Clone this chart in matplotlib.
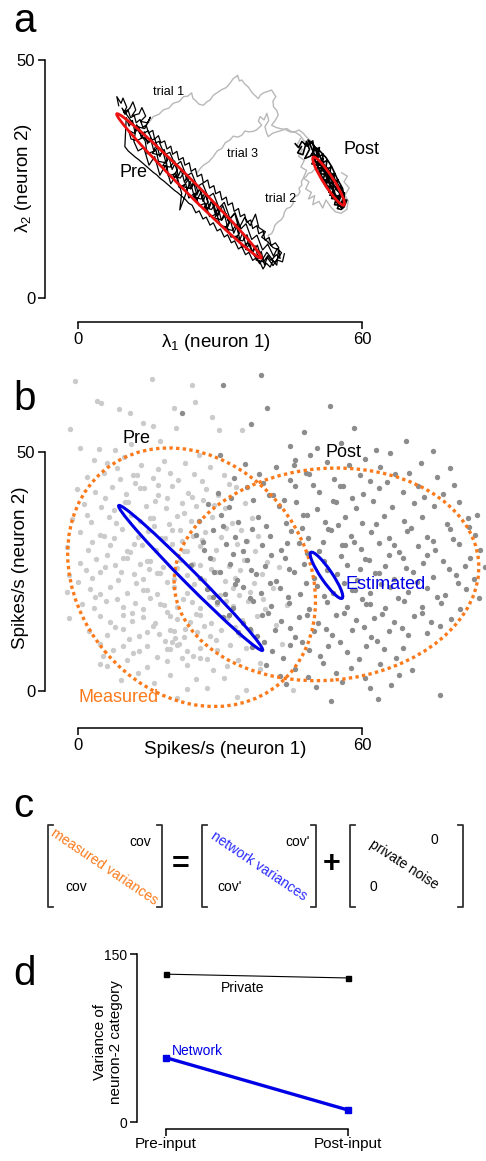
"""Firing-rate trajectories, spike-count clouds and variance partitioning."""

import matplotlib.pyplot as plt
import numpy as np
from matplotlib.patches import Ellipse

# ---- panel a: latent rate trajectories (lambda_1, lambda_2) ----
trial1 = np.array([
    (13.8, 35.6), (15.0, 36.9), (15.9, 38.1), (17.1, 38.6), (18.0, 39.5), (19.2, 39.9),
    (20.1, 40.9), (21.4, 41.3), (22.3, 42.3), (23.2, 42.4), (24.0, 43.1), (24.3, 41.9),
    (24.7, 41.6), (25.6, 40.7), (26.5, 40.5), (27.2, 41.2), (27.9, 41.6), (28.6, 42.6),
    (29.5, 43.2), (30.4, 43.8), (31.3, 44.2), (32.1, 45.1), (32.8, 46.1), (33.3, 46.4),
    (33.7, 46.8), (34.1, 45.6), (34.6, 45.8), (35.3, 44.9), (36.0, 44.3), (36.6, 43.4),
    (37.0, 42.9), (38.1, 41.9), (38.6, 42.7), (39.2, 43.1), (40.1, 43.4), (40.9, 43.7),
    (41.8, 42.3), (41.2, 41.4), (41.3, 40.2), (42.0, 39.4), (42.3, 38.4), (41.6, 37.2),
    (40.9, 36.3), (41.9, 35.8), (42.7, 35.6), (43.8, 35.4), (44.8, 34.9), (45.9, 34.8),
    (46.9, 34.2), (47.7, 33.1), (48.7, 32.5), (49.3, 31.4), (50.1, 30.7),
])
trial3 = np.array([
    (25.1, 26.2), (25.9, 27.3), (26.5, 27.9), (27.6, 28.6), (28.6, 29.7), (29.4, 30.9),
    (30.4, 31.4), (31.1, 32.6), (32.1, 33.2), (32.8, 34.0), (33.8, 33.8), (34.6, 34.2),
    (35.3, 35.1), (36.0, 34.9), (37.0, 35.0), (37.7, 35.3), (38.8, 36.3), (38.1, 37.2),
    (38.5, 38.1), (39.3, 37.4), (39.9, 38.8), (40.3, 37.3), (39.5, 36.0), (39.8, 34.8),
    (40.2, 33.9), (41.1, 34.6), (42.0, 34.9), (43.0, 35.2), (44.1, 35.6), (45.0, 35.0),
    (45.8, 34.9), (46.7, 35.3), (47.6, 34.6), (48.3, 33.8), (49.0, 33.2), (49.6, 32.1),
    (50.4, 31.4),
])
trial2 = np.array([
    (39.9, 11.1), (40.3, 12.0), (40.2, 13.2), (40.9, 13.5), (41.3, 14.3), (41.6, 15.3),
    (42.3, 16.0), (42.9, 16.4), (43.4, 17.1), (43.6, 18.0), (44.1, 18.8), (44.9, 19.1),
    (45.5, 19.9), (45.4, 20.7), (45.8, 21.3), (46.5, 21.6), (46.9, 22.3), (46.7, 23.1),
    (47.3, 23.7), (47.2, 24.5), (47.6, 25.1), (48.2, 25.5), (48.7, 26.2), (49.4, 26.4),
    (50.1, 27.2), (50.6, 26.5), (51.1, 26.2), (51.5, 25.3), (52.2, 24.8), (52.6, 23.9),
    (53.2, 23.4), (53.9, 22.6), (54.3, 22.3), (54.6, 22.9), (55.0, 23.0),
])
post_gray = np.array([
    (47.0, 33.5), (46.2, 32.0), (47.4, 31.2), (46.6, 29.8), (47.8, 28.9), (47.1, 27.5),
    (48.3, 26.8), (47.6, 25.2), (48.8, 24.4), (48.1, 22.9), (49.3, 22.2), (48.7, 20.8),
    (50.0, 21.5), (49.6, 19.6), (50.9, 20.3), (51.7, 18.9), (52.4, 20.6), (53.5, 19.0),
    (54.4, 18.1), (55.6, 17.8), (56.8, 18.6), (57.1, 20.4), (56.4, 21.6), (57.3, 23.1),
    (56.2, 24.4), (56.9, 25.6), (55.7, 26.3),
])
pre_walk = np.array([
    (8.6, 40.4), (8.2, 42.3), (9.1, 40.9), (9.5, 42.0), (10.3, 40.1), (9.7, 39.0),
    (10.9, 39.8), (11.6, 41.2), (12.2, 39.5), (11.4, 38.3), (12.9, 38.7), (13.5, 40.0),
    (14.3, 38.2), (13.2, 37.1), (14.7, 36.8), (15.3, 38.0), (14.1, 35.6), (12.8, 35.9),
    (11.9, 34.6), (10.7, 35.2), (11.2, 33.4), (12.5, 33.1), (13.9, 33.8), (15.0, 32.7),
    (16.2, 33.5), (16.8, 31.6), (15.7, 30.4), (17.3, 30.0), (18.2, 31.2), (18.8, 29.1),
    (17.9, 27.8), (19.5, 27.5), (20.4, 28.8), (21.0, 26.9), (20.1, 25.6), (21.6, 25.2),
    (22.5, 26.5), (23.1, 24.6), (22.2, 23.4), (23.8, 23.0), (24.7, 24.3), (25.3, 22.4),
    (24.4, 21.2), (26.0, 20.8), (26.9, 22.1), (27.5, 20.2), (26.6, 19.0), (28.2, 18.6),
    (29.1, 19.9), (29.7, 18.0), (28.8, 16.8), (30.4, 16.4), (31.3, 17.7), (31.9, 15.8),
    (31.0, 14.6), (32.6, 14.2), (33.5, 15.5), (34.1, 13.6), (33.2, 12.4), (34.8, 12.0),
    (35.7, 13.3), (36.3, 11.4), (35.4, 10.2), (37.0, 9.8), (37.9, 11.1), (38.5, 9.2),
    (37.6, 8.0), (39.2, 7.6), (40.1, 8.9), (40.8, 7.9), (41.9, 9.1), (42.7, 8.3),
    (42.4, 10.1), (41.2, 10.6), (40.0, 11.9), (38.8, 12.8), (39.6, 13.9), (38.2, 14.8),
    (37.5, 17.6), (36.4, 15.2), (35.2, 16.9), (34.0, 14.6), (33.1, 17.8), (31.8, 16.1),
    (30.6, 19.4), (29.5, 17.2), (28.3, 20.6), (27.2, 18.5), (26.0, 22.3), (24.9, 20.1),
    (23.7, 24.5), (22.6, 21.4), (21.5, 18.5), (21.9, 22.0), (20.8, 25.9), (19.6, 24.0),
    (18.5, 27.9), (17.3, 25.8), (16.2, 29.7), (15.0, 27.9), (13.9, 31.6), (12.7, 30.9),
    (11.8, 32.9), (12.4, 36.4), (13.6, 34.5), (14.8, 35.1), (16.0, 32.4), (17.1, 32.9),
    (18.3, 30.1), (19.4, 30.6), (20.6, 27.8), (21.7, 28.7), (22.9, 25.6), (24.0, 26.3),
    (25.2, 23.4), (26.3, 24.1), (27.5, 21.2), (28.6, 22.0), (29.8, 18.9), (30.9, 20.1),
    (32.1, 16.7), (33.2, 17.9), (34.4, 14.5), (35.5, 15.6), (36.7, 12.3), (37.8, 13.2),
    (39.0, 10.1), (40.1, 11.3), (41.3, 8.8), (42.1, 10.4), (43.0, 9.5), (41.6, 7.4),
    (39.9, 9.6), (38.4, 7.2), (37.1, 9.1), (35.9, 11.6), (34.7, 10.6), (33.6, 13.0),
    (32.3, 12.8), (31.5, 14.9), (30.1, 15.2), (29.3, 17.6), (27.8, 17.1), (26.9, 19.9),
    (25.6, 19.4), (24.6, 22.0), (23.4, 21.0), (22.8, 23.9), (21.3, 23.3), (20.7, 26.2),
    (19.1, 25.6), (18.7, 28.4), (17.0, 28.7), (16.5, 31.0), (14.6, 30.3), (14.2, 33.0),
    (9.3, 39.9), (9.9, 38.6), (10.6, 39.4), (11.1, 37.9), (11.9, 38.3), (12.3, 36.8),
    (13.1, 37.5), (13.7, 35.9), (14.4, 36.3), (14.9, 34.7), (15.8, 35.2), (16.2, 33.4),
    (17.0, 34.1), (17.5, 32.6), (18.3, 33.0), (18.8, 31.3), (19.6, 31.9), (20.0, 30.2),
    (20.9, 30.8), (21.3, 29.0), (22.2, 29.5), (22.6, 27.9), (23.5, 28.4), (23.9, 26.6),
    (24.8, 27.2), (25.2, 25.5), (26.1, 26.0), (26.5, 24.2), (27.4, 24.8), (27.8, 23.1),
    (28.7, 23.6), (29.1, 21.9), (30.0, 22.4), (30.4, 20.6), (31.3, 21.2), (31.7, 19.5),
    (32.6, 20.0), (33.0, 18.2), (33.9, 18.8), (34.3, 17.1), (35.2, 17.6), (35.6, 15.9),
    (36.5, 16.4), (36.9, 14.6), (37.8, 15.2), (38.2, 13.5), (39.1, 14.0), (39.5, 12.2),
    (40.4, 12.7), (40.8, 11.0), (41.7, 11.6), (42.4, 10.6), (42.0, 6.9), (41.2, 7.8),
    (40.6, 6.5), (39.8, 7.3), (39.1, 6.1), (38.4, 7.6), (37.6, 8.4), (36.9, 7.9),
    (36.1, 9.6), (35.4, 9.1), (34.6, 10.8), (33.9, 10.3), (33.1, 12.0), (32.4, 11.6),
    (31.6, 13.3), (30.9, 12.8), (30.1, 14.5), (29.4, 14.1), (28.6, 15.8), (27.9, 15.3),
    (27.1, 17.0), (26.4, 16.6), (25.6, 18.3), (24.9, 17.9), (24.1, 19.5), (23.4, 19.9),
    (22.6, 20.8), (21.9, 21.4), (21.1, 22.1), (20.4, 22.6), (19.6, 23.3), (18.9, 23.9),
    (18.1, 24.6), (17.4, 25.1), (16.6, 25.9), (15.9, 26.4), (15.1, 27.1), (14.4, 27.7),
    (13.6, 28.4), (12.9, 29.0), (12.1, 29.6), (11.4, 30.2), (10.6, 30.9), (9.9, 31.8),
    (10.2, 37.9), (10.8, 36.1), (11.5, 37.3), (12.0, 35.0), (12.8, 36.0), (13.4, 33.6),
    (14.0, 34.9), (14.7, 32.4), (15.3, 33.6), (16.0, 31.0), (16.6, 32.3), (17.3, 29.7),
    (17.9, 31.0), (18.6, 28.3), (19.2, 29.6), (19.9, 27.0), (20.5, 28.3), (21.2, 25.6),
    (21.8, 27.0), (22.5, 24.3), (23.1, 25.7), (23.8, 22.9), (24.4, 24.4), (25.1, 21.6),
    (25.7, 23.0), (26.4, 20.3), (27.0, 21.7), (27.7, 18.9), (28.3, 20.4), (29.0, 17.6),
    (29.6, 19.0), (30.3, 16.3), (30.9, 17.7), (31.6, 14.9), (32.2, 16.4), (32.9, 13.6),
    (33.5, 15.0), (34.2, 12.3), (34.8, 13.7), (35.5, 10.9), (36.1, 12.4), (36.8, 9.6),
    (37.4, 11.0), (38.1, 8.3), (38.7, 9.8), (39.4, 7.0), (40.0, 8.5), (41.2, 6.8),
    (42.0, 8.0), (43.2, 7.6), (43.6, 9.3),
])
post_walk = np.array([
    (47.2, 31.8), (46.4, 30.5), (47.5, 30.1), (48.3, 32.9), (48.9, 31.2), (47.9, 29.3),
    (49.1, 29.8), (50.2, 31.5), (50.6, 29.6), (49.4, 28.2), (50.9, 27.9), (51.8, 29.3),
    (51.4, 26.6), (52.6, 27.4), (53.0, 25.3), (52.0, 24.6), (53.8, 24.1), (54.1, 22.3),
    (53.2, 21.6), (55.0, 21.4), (55.4, 19.7), (56.3, 20.6), (55.8, 18.9), (54.6, 20.1),
    (53.7, 23.0), (52.7, 25.8), (51.5, 28.1), (50.3, 28.6), (51.2, 26.3), (52.3, 23.5),
    (54.3, 20.8), (56.0, 22.1), (54.9, 23.9), (53.5, 26.2), (52.2, 27.5), (50.7, 30.6),
    (49.6, 32.4), (48.6, 33.2), (49.8, 30.5), (51.0, 28.4), (52.0, 26.5), (53.0, 24.2),
    (54.0, 22.5), (55.1, 20.4), (55.7, 21.6), (54.6, 22.8), (53.4, 25.0), (52.4, 27.0),
    (51.3, 28.9), (50.4, 27.0), (51.7, 25.0), (52.9, 23.0), (54.2, 21.0), (55.5, 19.2),
    (56.5, 19.8), (55.9, 23.0), (54.7, 25.2), (53.6, 27.6), (52.4, 29.5), (51.0, 31.0),
    (49.9, 31.8), (49.5, 30.0), (50.3, 29.9), (50.0, 28.7), (50.9, 28.6), (50.6, 27.4),
    (51.5, 27.3), (51.2, 26.1), (52.1, 26.0), (51.8, 24.8), (52.7, 24.7), (52.4, 23.5),
    (53.3, 23.4), (53.0, 22.2), (53.9, 22.1), (53.6, 20.9), (54.5, 20.8), (54.2, 19.6),
    (55.1, 19.5), (54.8, 18.8), (55.6, 18.6), (56.2, 19.1), (56.8, 20.6), (55.7, 20.0),
    (56.3, 22.1), (55.2, 21.5), (55.6, 23.4), (54.5, 22.9), (54.9, 24.8), (53.8, 24.2),
    (54.2, 26.2), (53.1, 25.6), (53.4, 27.5), (52.3, 26.9), (52.6, 28.9), (51.5, 28.3),
    (51.8, 30.2), (50.7, 29.6), (51.0, 31.6), (49.9, 31.0), (49.6, 33.0), (48.4, 31.9),
    (47.3, 32.9), (46.6, 31.6), (45.9, 32.4),
])
# fitted covariance ellipses: (centre x, centre y, length, width, angle)
pre_rate_ell = (23.45, 23.55, 43.0, 2.6, -44.8)
post_rate_ell = (52.95, 24.55, 12.0, 2.1, -57.2)

# ---- panel b: spike-count samples ----
pre_spikes = np.array([
    (-0.6, 64.8), (15.6, 65.2), (24.0, 64.1), (4.0, 60.6), (4.9, 60.2), (8.6, 58.9),
    (20.2, 59.2), (24.7, 60.4), (-1.6, 54.8), (13.8, 56.1), (15.9, 55.4), (20.7, 55.0),
    (29.7, 54.5), (34.6, 54.5), (0.5, 50.8), (4.4, 50.6), (7.9, 50.5), (11.2, 51.6),
    (17.3, 52.4), (3.3, 48.4), (6.1, 47.6), (9.8, 48.9), (13.4, 47.3), (18.1, 48.2),
    (22.6, 47.8), (27.9, 46.9), (1.9, 44.8), (5.4, 45.6), (8.9, 44.3), (11.6, 45.2),
    (12.4, 45.1), (15.8, 44.6), (19.4, 45.7), (21.1, 44.1), (24.6, 45.3), (26.3, 44.0),
    (30.8, 45.1), (-0.3, 42.2), (3.6, 41.6), (7.2, 42.7), (10.1, 41.3), (13.2, 42.5),
    (14.0, 42.4), (17.0, 41.1), (19.9, 42.8), (23.3, 41.5), (27.1, 42.3), (29.6, 41.0),
    (33.4, 42.6), (1.2, 39.1), (4.8, 38.4), (9.9, 39.6), (10.6, 39.5), (14.4, 38.7),
    (16.2, 39.8), (18.6, 38.2), (21.9, 39.3), (25.0, 38.6), (26.5, 39.9), (31.0, 38.3),
    (35.2, 39.4), (-1.2, 36.0), (2.7, 35.4), (6.6, 36.5), (8.0, 35.2), (11.3, 36.8),
    (13.1, 35.6), (15.2, 36.2), (15.9, 36.1), (19.3, 35.0), (20.9, 36.7), (23.8, 35.5),
    (28.4, 36.3), (32.5, 35.1), (36.7, 36.2), (0.4, 33.2), (4.7, 32.6), (5.4, 32.5),
    (9.2, 33.8), (12.7, 32.3), (14.8, 33.4), (17.6, 32.1), (18.3, 32.0), (21.5, 33.6),
    (24.4, 32.4), (26.9, 33.3), (30.2, 32.2), (34.4, 33.7), (38.1, 32.5), (-2.3, 30.1),
    (2.1, 29.4), (6.8, 30.6), (10.3, 29.2), (11.0, 29.1), (13.6, 30.5), (16.5, 29.6),
    (19.8, 30.8), (22.3, 29.3), (23.0, 29.2), (25.8, 30.4), (29.1, 29.5), (33.6, 30.7),
    (37.4, 29.2), (0.5, 26.8), (3.9, 27.6), (7.8, 26.3), (9.6, 27.9), (10.3, 27.8),
    (13.1, 26.5), (14.5, 27.2), (15.2, 27.1), (18.0, 26.0), (21.6, 27.5), (24.2, 26.6),
    (25.8, 26.4), (28.6, 27.7), (31.9, 26.2), (35.0, 27.4), (-1.8, 24.3), (2.9, 23.6),
    (4.7, 24.8), (8.4, 23.2), (11.9, 24.5), (13.8, 23.4), (16.7, 24.7), (17.4, 24.6),
    (20.2, 23.5), (23.0, 24.2), (26.7, 23.3), (29.4, 24.9), (33.1, 23.6), (38.9, 24.4),
    (-2.3, 20.8), (2.6, 21.4), (4.7, 20.3), (6.8, 21.7), (10.3, 20.6), (13.8, 21.2),
    (14.5, 21.1), (16.7, 20.2), (20.2, 21.8), (23.0, 20.5), (27.5, 21.3), (30.0, 20.1),
    (32.8, 21.6), (36.3, 20.7), (41.2, 21.5), (0.8, 18.3), (3.3, 17.4), (5.9, 18.8),
    (9.6, 17.6), (12.1, 18.5), (13.8, 17.2), (17.4, 18.1), (18.1, 18.0), (20.9, 17.5),
    (24.1, 18.6), (25.8, 17.3), (29.3, 18.2), (32.8, 17.8), (35.9, 18.9), (39.6, 17.1),
    (-2.0, 15.2), (4.7, 15.6), (6.8, 14.4), (9.6, 15.9), (11.4, 14.6), (13.8, 15.4),
    (16.2, 14.2), (19.5, 15.7), (20.9, 15.1), (23.6, 14.5), (25.8, 15.8), (28.2, 14.3),
    (31.4, 15.2), (34.7, 14.8), (37.8, 15.6), (2.4, 12.6), (6.2, 11.8), (9.6, 12.9),
    (12.9, 11.5), (14.5, 12.4), (17.2, 11.9), (19.5, 12.7), (20.2, 12.6), (22.4, 11.4),
    (25.1, 12.3), (27.9, 11.6), (30.3, 12.8), (34.2, 11.7), (36.6, 12.5), (4.7, 9.8),
    (7.5, 8.6), (9.6, 9.5), (12.8, 8.3), (14.5, 9.4), (18.8, 8.8), (19.5, 8.7),
    (20.9, 9.6), (23.0, 8.4), (25.8, 9.1), (29.3, 8.5), (32.2, 9.7), (35.6, 8.9),
    (4.7, 5.6), (6.1, 5.3), (10.3, 6.4), (14.5, 5.1), (18.8, 6.2), (23.0, 5.5),
    (25.8, 6.8), (27.2, 6.7), (31.4, 5.2), (38.4, 5.9), (9.0, 2.4), (16.1, 1.6),
    (23.0, 0.4), (27.2, 0.6), (30.8, 2.7), (35.6, 0.3), (45.5, 0.2), (21.0, -1.5),
    (33.5, -1.2), (5.8, 40.3), (7.7, 37.8), (12.0, 43.6), (16.9, 43.0), (18.9, 40.3),
    (22.5, 37.2), (24.1, 40.6), (28.7, 39.0), (3.0, 31.2), (7.6, 32.0), (11.8, 30.8),
    (16.0, 34.6), (19.9, 33.7), (22.0, 31.4), (26.2, 31.5), (31.3, 34.1), (1.6, 25.3),
    (5.7, 25.9), (9.0, 25.0), (12.3, 22.6), (14.9, 25.5), (18.8, 22.8), (21.0, 25.8),
    (24.6, 22.4), (28.0, 25.6), (31.0, 23.0), (3.6, 19.6), (8.2, 19.2), (11.5, 16.4),
    (15.3, 19.4), (18.9, 16.5), (22.1, 19.3), (25.0, 16.1), (27.6, 19.7), (31.2, 18.9),
    (34.0, 20.1), (7.9, 13.3), (10.8, 10.9), (15.8, 13.7), (18.3, 10.4), (19.9, 10.2),
    (20.6, 11.0), (21.4, 9.9), (22.7, 13.0), (26.6, 13.7), (29.1, 10.6), (33.1, 13.4),
    (5.3, 7.4), (11.7, 7.9), (16.6, 7.1), (21.9, 6.9), (24.4, 7.4), (28.6, 4.4),
    (33.7, 6.5), (12.6, 3.8), (19.4, 3.3), (25.0, 2.6), (2.0, 36.8), (6.2, 28.5),
    (0.0, 22.7), (37.1, 22.5), (34.2, 25.4), (40.0, 27.0), (39.1, 19.3), (41.8, 13.8),
    (43.0, 9.8), (38.5, 4.5), (17.0, 46.4), (8.3, 46.6), (25.6, 49.4), (31.9, 43.4),
    (35.8, 31.3), (42.5, 25.9), (44.2, 17.9), (10.9, 58.1), (28.3, 57.4),
])
post_spikes = np.array([
    (30.7, 64.0), (38.6, 66.1), (21.9, 58.2), (39.9, 59.2), (53.2, 59.6), (36.5, 55.8),
    (47.8, 54.2), (58.4, 55.1), (44.8, 51.2), (50.4, 50.8), (63.0, 50.5), (30.0, 49.4),
    (49.0, 49.4), (45.8, 48.4), (55.6, 51.9), (69.3, 52.3), (35.2, 47.4), (41.9, 46.8),
    (52.6, 47.9), (57.3, 47.2), (63.8, 46.9), (72.4, 47.6), (33.0, 44.6), (38.3, 45.3),
    (44.7, 44.2), (48.1, 45.6), (48.8, 45.5), (54.0, 44.3), (59.5, 45.1), (61.8, 44.0),
    (66.9, 45.4), (70.0, 45.6), (75.8, 44.7), (29.6, 41.5), (35.7, 42.6), (40.4, 41.1),
    (41.1, 41.0), (45.9, 42.8), (51.0, 41.6), (55.3, 42.9), (56.0, 42.8), (60.2, 41.3),
    (63.7, 42.4), (68.6, 41.7), (71.8, 42.9), (77.2, 41.2), (79.5, 43.0), (27.4, 39.2),
    (31.8, 38.4), (36.9, 39.9), (42.5, 38.6), (46.1, 39.5), (50.6, 38.1), (53.8, 39.7),
    (54.5, 39.6), (58.7, 38.3), (62.4, 39.8), (66.3, 38.5), (70.9, 39.3), (75.2, 38.7),
    (80.4, 39.5), (25.6, 35.6), (30.3, 36.8), (33.7, 35.3), (38.1, 36.4), (43.9, 35.1),
    (47.6, 36.9), (48.3, 36.8), (52.2, 35.4), (56.4, 36.5), (59.9, 35.2), (64.7, 36.7),
    (68.8, 35.5), (72.6, 36.3), (77.9, 35.0), (82.3, 36.1), (24.9, 32.7), (28.6, 33.6),
    (33.2, 32.2), (36.8, 33.9), (40.5, 32.5), (44.9, 33.4), (48.7, 32.1), (52.8, 33.8),
    (53.5, 33.7), (57.6, 32.4), (61.9, 33.3), (65.7, 32.0), (69.6, 33.5), (73.8, 32.3),
    (78.7, 33.9), (83.9, 32.6), (26.7, 29.4), (31.2, 30.7), (34.9, 29.2), (38.9, 30.5),
    (42.8, 29.6), (46.6, 30.9), (50.9, 29.3), (55.8, 30.6), (56.5, 30.5), (59.7, 29.8),
    (63.6, 30.9), (67.9, 29.1), (71.8, 30.4), (75.5, 29.5), (80.6, 30.8), (85.0, 29.6),
    (23.8, 26.3), (27.9, 27.8), (32.1, 26.6), (35.8, 27.4), (39.6, 26.1), (43.8, 27.9),
    (47.7, 26.5), (51.9, 27.2), (56.8, 26.4), (60.7, 27.6), (61.4, 27.5), (64.9, 26.2),
    (68.6, 27.8), (72.9, 26.7), (77.1, 27.3), (81.8, 26.1), (25.8, 23.6), (29.9, 24.8),
    (33.6, 23.3), (37.7, 24.4), (41.9, 23.1), (45.7, 24.9), (49.8, 23.7), (54.7, 24.5),
    (58.9, 23.2), (62.8, 24.7), (63.5, 24.6), (66.8, 23.4), (70.7, 24.9), (74.9, 23.8),
    (79.8, 24.3), (83.7, 23.5), (27.3, 21.4), (31.0, 20.2), (34.8, 21.8), (38.6, 20.6),
    (42.7, 21.5), (46.9, 20.3), (50.6, 21.9), (53.8, 20.5), (57.9, 21.2), (58.6, 21.1),
    (61.7, 20.4), (65.9, 21.7), (69.8, 20.8), (73.7, 21.6), (77.6, 20.1), (81.9, 21.3),
    (29.4, 18.6), (32.8, 17.3), (36.9, 18.9), (40.8, 17.7), (44.6, 18.4), (48.9, 17.1),
    (52.7, 18.7), (56.8, 17.5), (60.9, 18.2), (61.6, 18.1), (64.8, 17.4), (68.9, 18.8),
    (72.7, 17.6), (76.8, 18.5), (80.7, 17.2), (30.7, 15.4), (34.9, 14.3), (38.8, 15.8),
    (42.9, 14.6), (46.7, 15.5), (50.8, 14.2), (54.6, 15.9), (58.7, 14.8), (62.6, 15.3),
    (66.8, 14.5), (70.9, 15.7), (74.6, 14.4), (78.9, 15.1), (33.8, 12.4), (37.9, 11.6),
    (41.7, 12.8), (45.9, 11.3), (49.9, 12.5), (53.7, 11.8), (57.8, 12.7), (61.9, 11.4),
    (65.8, 12.6), (69.7, 11.7), (73.8, 12.2), (36.8, 9.3), (40.9, 8.4), (44.8, 9.7),
    (48.9, 8.6), (52.8, 9.5), (56.9, 8.2), (60.8, 9.4), (64.7, 8.7), (68.6, 9.1),
    (39.8, 5.4), (45.9, 4.6), (51.8, 5.8), (57.7, 4.9), (63.9, 5.6), (70.6, 4.3),
    (43.9, 1.4), (50.2, 0.8), (55.7, 1.9), (61.8, 0.6), (66.2, 1.3), (76.4, -0.9),
    (53.5, -2.1), (63.3, -1.6), (32.3, 40.3), (39.1, 43.6), (43.6, 40.0), (49.6, 43.1),
    (57.9, 40.4), (65.2, 43.7), (73.1, 40.6), (26.4, 31.1), (30.6, 34.5), (35.4, 31.4),
    (39.7, 34.6), (44.1, 31.0), (47.4, 34.2), (51.7, 31.2), (55.0, 34.8), (58.4, 31.1),
    (62.9, 35.0), (66.8, 30.6), (70.4, 34.2), (74.9, 31.3), (79.2, 31.9), (82.7, 34.4),
    (28.8, 25.0), (32.7, 28.6), (36.5, 25.3), (40.8, 28.4), (44.5, 25.6), (48.4, 28.9),
    (52.6, 25.4), (55.5, 28.3), (59.6, 25.6), (65.8, 28.5), (69.4, 25.7), (73.8, 28.5),
    (78.3, 25.5), (82.9, 27.9), (28.5, 19.7), (33.2, 22.4), (36.3, 19.5), (40.6, 22.6),
    (44.3, 19.6), (48.1, 22.5), (52.0, 19.8), (56.3, 22.6), (60.1, 19.3), (64.0, 22.3),
    (67.6, 19.5), (71.6, 22.8), (75.9, 19.7), (80.3, 22.5), (32.0, 15.9), (36.4, 13.0),
    (40.2, 16.3), (44.7, 13.1), (48.3, 16.0), (52.4, 13.0), (56.1, 16.4), (60.5, 13.3),
    (64.3, 16.1), (68.4, 13.2), (72.6, 16.4), (76.5, 13.5), (39.3, 10.2), (43.3, 6.9),
    (47.3, 10.3), (51.2, 7.3), (55.4, 10.2), (59.3, 6.6), (63.2, 10.5), (67.2, 6.9),
    (42.6, 3.2), (48.7, 2.9), (54.5, 3.7), (60.6, 2.7), (67.9, 3.3), (84.3, 36.8),
    (86.0, 26.0), (84.8, 19.4), (45.6, 47.3), (60.7, 48.5), (66.0, 49.8), (75.0, 50.3),
    (78.5, 46.7),
])
pre_measured_ell = (24.0, 23.8, 58.0, 48.0, -50.0)
post_measured_ell = (52.5, 24.4, 64.5, 44.3, 5.0)
pre_est_ell = (23.8, 23.65, 42.9, 2.8, -44.9)
post_est_ell = (52.5, 24.2, 11.65, 2.4, -55.5)

# ---- panel d: variance partition ----
conditions = ["Pre-input", "Post-input"]
private_var = [132.0, 128.6]
network_var = [57.4, 10.7]

W, H = 486, 1161
ORANGE = "#fb7a1c"
BLUE = "#0000e6"
GRAY_TRIAL = "#b8b8b8"

plt.rcParams["font.family"] = ["Liberation Sans", "DejaVu Sans"]
plt.rcParams["mathtext.fontset"] = "custom"
plt.rcParams["mathtext.rm"] = "Liberation Sans"


def px_axes(fig, left, top, right, bottom):
    return fig.add_axes([left / W, 1 - bottom / H, (right - left) / W, (bottom - top) / H])


def style_axes(ax, xb, yb, xticks, yticks, size):
    for side in ("top", "right"):
        ax.spines[side].set_visible(False)
    ax.spines["left"].set_bounds(*yb)
    ax.spines["bottom"].set_bounds(*xb)
    for side in ("left", "bottom"):
        ax.spines[side].set_linewidth(1.1)
    ax.set_xticks(xticks)
    ax.set_yticks(yticks)
    ax.tick_params(direction="out", length=5, width=1.1, labelsize=size, pad=2)


def ellipse(ax, params, **kw):
    x, y, w, h, ang = params
    ax.add_patch(Ellipse((x, y), w, h, angle=ang, fill=False, **kw))


fig = plt.figure(figsize=(W / 100, H / 100), dpi=100)

# panel a
ax = px_axes(fig, 45, 40, 486, 322)
ax.set_xlim((45 - 78) / 4.733, (486 - 78) / 4.733)
ax.set_ylim((298 - 322) / 4.76, (298 - 40) / 4.76)
for tr in (trial1, trial2, trial3, post_gray):
    ax.plot(tr[:, 0], tr[:, 1], color=GRAY_TRIAL, lw=1.0, zorder=1)
ax.plot(pre_walk[:, 0], pre_walk[:, 1], color="black", lw=0.9, zorder=2)
ax.plot(post_walk[:, 0], post_walk[:, 1], color="black", lw=1.2, zorder=2)
ellipse(ax, pre_rate_ell, ec="#ee1111", lw=2.0, zorder=3)
ellipse(ax, post_rate_ell, ec="#ee1111", lw=2.0, zorder=3)
ax.text(19.1, 43.3, "trial 1", fontsize=9, ha="center", va="center")
ax.text(34.7, 30.2, "trial 3", fontsize=9, ha="center", va="center")
ax.text(42.7, 20.9, "trial 2", fontsize=9, ha="center", va="center")
ax.text(11.7, 26.3, "Pre", fontsize=13, ha="center", va="center")
ax.text(59.9, 31.3, "Post", fontsize=13, ha="center", va="center")
style_axes(ax, (0, 60), (0, 50), [0, 60], [0, 50], 12)
fig.text(216 / W, 1 - 347 / H, r"$\mathregular{\lambda_1}$ (neuron 1)", fontsize=13.5,
         ha="center", va="baseline")
fig.text(23 / W, 1 - 178 / H, r"$\mathregular{\lambda_2}$ (neuron 2)", fontsize=13.5,
         ha="center", va="center", rotation=90)

# panel b
ax = px_axes(fig, 45, 365, 486, 728)
ax.set_xlim((45 - 78) / 4.733, (486 - 78) / 4.733)
ax.set_ylim((691 - 728) / 4.78, (691 - 365) / 4.78)
ax.scatter(pre_spikes[:, 0], pre_spikes[:, 1], s=15, color="#cbcbcb", lw=0, zorder=1)
ax.scatter(post_spikes[:, 0], post_spikes[:, 1], s=15, color="#8c8c8c", lw=0, zorder=2)
for p in (pre_measured_ell, post_measured_ell):
    ellipse(ax, p, ec=ORANGE, lw=2.4, ls=(0, (1, 1)), zorder=3)
for p in (pre_est_ell, post_est_ell):
    ellipse(ax, p, ec=BLUE, lw=2.2, zorder=4)
ax.text(12.4, 52.9, "Pre", fontsize=13, ha="center", va="center")
ax.text(56.2, 49.9, "Post", fontsize=13, ha="center", va="center")
ax.text(56.5, 22.2, "Estimated", fontsize=13, color=BLUE, ha="left", va="center")
ax.text(0.0, -1.3, "Measured", fontsize=13, color=ORANGE, ha="left", va="center")
style_axes(ax, (0, 60), (0, 50), [0, 60], [0, 50], 12)
fig.text(225 / W, 1 - 754 / H, "Spikes/s (neuron 1)", fontsize=13.5,
         ha="center", va="baseline")
fig.text(21 / W, 1 - 568 / H, "Spikes/s (neuron 2)", fontsize=13.5,
         ha="center", va="center", rotation=90)

# panel c
axc = px_axes(fig, 0, 790, 486, 925)
axc.set_xlim(0, 486)
axc.set_ylim(925, 790)
axc.axis("off")
for left, right in ((48, 162), (202, 316), (350, 463)):
    axc.plot([left + 5, left, left, left + 5], [825, 825, 907, 907], color="#333333", lw=1.3)
    axc.plot([right - 5, right, right, right - 5], [825, 825, 907, 907], color="#333333", lw=1.3)
axc.text(104, 867, "measured variances", color=ORANGE, fontsize=10, rotation=-34,
         ha="center", va="center", rotation_mode="anchor")
axc.text(140, 842, "cov", fontsize=10, ha="center", va="center")
axc.text(76, 887, "cov", fontsize=10, ha="center", va="center")
axc.text(181, 865, "=", fontsize=22, fontweight="bold", ha="center", va="center")
axc.text(259, 866, "network variances", color="#2a2aff", fontsize=10, rotation=-34,
         ha="center", va="center", rotation_mode="anchor")
axc.text(298, 842, "cov'", fontsize=10, ha="center", va="center")
axc.text(230, 887, "cov'", fontsize=10, ha="center", va="center")
axc.text(332, 864, "+", fontsize=22, fontweight="bold", ha="center", va="center")
axc.text(404, 865, "private noise", fontsize=10, rotation=-33,
         ha="center", va="center", rotation_mode="anchor")
axc.text(434, 840, "0", fontsize=10, ha="center", va="center")
axc.text(373, 887, "0", fontsize=10, ha="center", va="center")

# panel d
ax = px_axes(fig, 137, 945, 440, 1129)
ax.set_xlim((137 - 166) / 182, (440 - 166) / 182)
ax.set_ylim((1122 - 1129) / 1.12, (1122 - 945) / 1.12)
xpos = np.arange(len(conditions))
ax.plot(xpos, private_var, color="black", lw=0.8, marker="s", ms=3.6, clip_on=False)
ax.plot(xpos, network_var, color=BLUE, lw=2.4, marker="s", ms=3.8, clip_on=False)
ax.text(0.42, 119.6, "Private", fontsize=10, ha="center", va="center")
ax.text(0.03, 63.4, "Network", fontsize=10, color=BLUE, ha="left", va="center")
style_axes(ax, (0, 1), (0, 150), xpos, [0, 150], 10)
ax.set_xticklabels(conditions, fontsize=11)
ax.tick_params(axis="x", pad=1)
fig.text(108 / W, 1 - 1042 / H, "Variance of\nneuron-2 category", fontsize=11,
         ha="center", va="center", rotation=90, multialignment="center", linespacing=1.25)

for letter, x, y in (("a", 13, 32), ("b", 13, 410), ("c", 13, 817), ("d", 13, 985)):
    fig.text(x / W, 1 - y / H, letter, fontsize=29, ha="left", va="baseline")

fig.savefig("out.png", dpi=100)
